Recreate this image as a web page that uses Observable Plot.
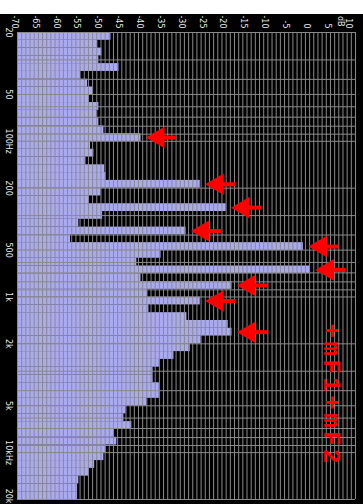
<!DOCTYPE html>
<html><head><meta charset="utf-8">
<script src="https://cdn.jsdelivr.net/npm/d3@7"></script>
<script src="https://cdn.jsdelivr.net/npm/@observablehq/plot@0.6"></script>
<style>
html,body{margin:0;padding:0;background:#fff;width:363px;height:504px;overflow:hidden;}
#bg{position:absolute;left:0;top:14px;width:363px;height:490px;background:#000;}
#chart{position:absolute;left:0;top:0;}
</style></head><body><div id="bg"></div><div id="chart"></div>
<script>
// 1/6-octave band levels in dB, from 20 Hz (top) to 20 kHz (bottom)
const levels = [-47.6,-50.8,-49.8,-50.5,-45.7,-54.9,-53.2,-52,-52.9,-50.5,
  -51,-50.5,-49.3,-40.4,-52.5,-51.7,-53.6,-49.1,-48.8,-26.2,
  -50,-52.9,-20,-49.6,-55.3,-29.6,-57.3,-1.5,-35.6,-41.4,
  0.2,-40.4,-18.6,-38.8,-26.2,-38.5,-29.4,-19.5,-18.6,-26,
  -28.6,-32.5,-36,-37.5,-37.5,-36,-36,-39,-44,-44.5,
  -42.6,-46.9,-46.2,-48.8,-49.3,-51.5,-52.9,-55.3,-55.6,-55.6];
const freqTicks = [20,50,100,200,500,1000,2000,5000,10000];
const freqTickLabels = ["20","50","100Hz","200","500","1k","2k","5k","10kHz"];
const freqLastTick = 20000;
const freqLastLabel = "20k";
const dbTicks = [-70,-65,-60,-55,-50,-45,-40,-35,-30,-25,-20,-15,-10,-5,0,5,10];
const dbTickLabels = ["-70","-65","-60","-55","-50","-45","-40","-35","-30","-25","-20","-15","-10","-5","0","5","10"];
const dbUnit = "dB";
const arrowBars = [13,19,22,25,27,30,32,34,38];
const annotation = "+mF1+mF2";

const N = levels.length;
const fLo = 20, fHi = 20000;
const edge = i => fLo * Math.pow(fHi / fLo, i / N);
const bands = levels.map((v, i) => ({i, v, y1: edge(i), y2: edge(i + 1), yc: Math.sqrt(edge(i) * edge(i + 1))}));
const arrows = arrowBars.map(i => bands[i]);

const gridX = d3.range(-70, 12, 1);
const gridY = [];
for (const dec of [10, 100, 1000, 10000]) for (let k = 1; k <= 9; k++) { const f = k * dec; if (f > fLo && f < fHi) gridY.push(f); }

const chart = Plot.plot({
  width: 363, height: 504,
  marginTop: 32, marginBottom: 5, marginLeft: 17, marginRight: 8,
  style: {background: "transparent", fontFamily: "DejaVu Sans"},
  x: {domain: [-70, 11], axis: null},
  y: {type: "log", domain: [fLo, fHi], reverse: true, axis: null},
  marks: [
    Plot.rect(bands, {x1: -70, x2: "v", y1: "y1", y2: "y2", fill: "#aaaaf2"}),
    Plot.ruleX(gridX, {stroke: "#8a8a8a", strokeWidth: 1}),
    Plot.ruleY(gridY, {stroke: "#8a8a8a", strokeWidth: 1}),
    Plot.ruleY([fLo, fHi], {stroke: "#8a8a8a", strokeWidth: 1}),
    Plot.text(dbTicks, {x: d => d, text: (d, i) => dbTickLabels[i], frameAnchor: "top", dy: -4, rotate: 90, textAnchor: "end", fill: "#e8e8e8", fontSize: 8}),
    Plot.text([dbUnit], {x: () => 10, frameAnchor: "top", dx: -8, dy: -6, rotate: 90, textAnchor: "end", fill: "#e8e8e8", fontSize: 8}),
    Plot.text(freqTicks, {y: d => d, text: (d, i) => freqTickLabels[i], frameAnchor: "left", dx: -9, rotate: 90, textAnchor: "middle", fill: "#e8e8e8", fontSize: 8}),
    Plot.text([freqLastTick], {y: d => d, text: () => freqLastLabel, frameAnchor: "left", dx: -9, dy: 4, rotate: 90, textAnchor: "end", fill: "#e8e8e8", fontSize: 8}),
    Plot.ruleY(arrows, {y: "yc", x1: d => d.v + 3, x2: d => d.v + 8.5, stroke: "red", strokeWidth: 4}),
    Plot.dot(arrows, {y: "yc", x: d => d.v + 1.5, dx: 11, symbol: "triangle", rotate: -90, r: 8, fill: "red", stroke: "none"}),
    Plot.text([annotation], {frameAnchor: "bottom-right", dx: -32, dy: -106, rotate: 90, textAnchor: "middle", fill: "red", fontSize: 24, fontWeight: "bold", fontFamily: "Liberation Mono"})
  ]
});
d3.select(chart).selectAll("text").filter(function() { return this.textContent === annotation; })
  .attr("textLength", 140).attr("lengthAdjust", "spacing");
document.getElementById("chart").appendChild(chart);
</script></body></html>
